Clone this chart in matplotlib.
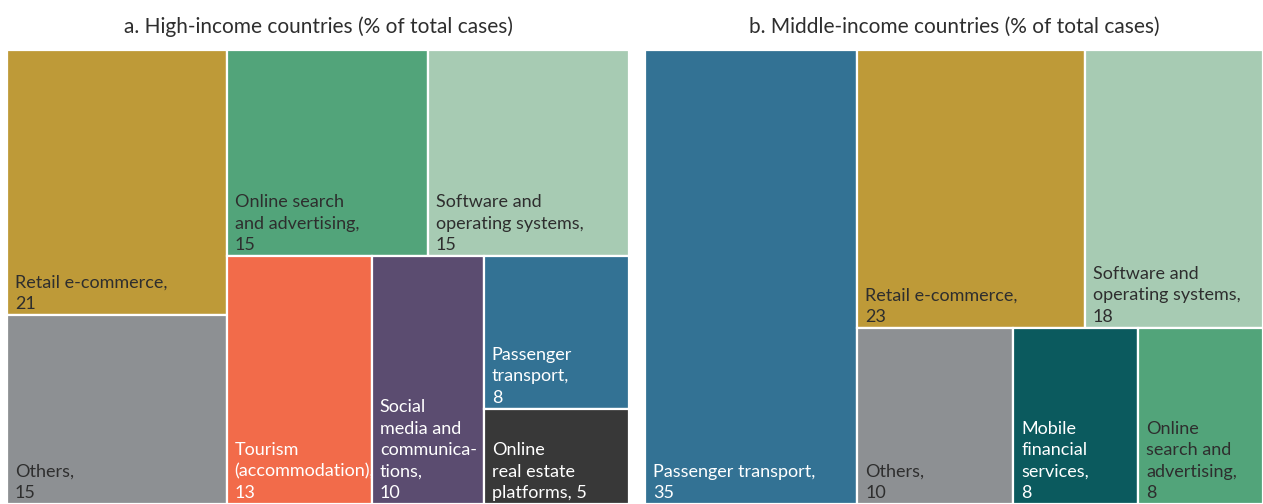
import matplotlib
matplotlib.use("Agg")
import matplotlib.pyplot as plt
from matplotlib.patches import Rectangle

plt.rcParams['font.family'] = ['Lato', 'DejaVu Sans']

# ---- data ----
high_labels = ["Retail e-commerce,\n21", "Others,\n15", "Online search\nand advertising,\n15",
               "Software and\noperating systems,\n15", "Tourism\n(accommodation),\n13",
               "Social\nmedia and\ncommunica-\ntions,\n10", "Passenger\ntransport,\n8",
               "Online\nreal estate\nplatforms, 5"]
high_values = [21, 15, 15, 15, 13, 10, 8, 5]
high_colors = ["#BE9A38", "#8D9093", "#52A47A", "#A7CBB3", "#F26B4A", "#5B4C70", "#337294", "#383838"]
high_text = ["#2E2E2E", "#2E2E2E", "#2E2E2E", "#2E2E2E", "white", "white", "white", "white"]

mid_labels = ["Passenger transport,\n35", "Retail e-commerce,\n23", "Software and\noperating systems,\n18",
              "Others,\n10", "Mobile\nfinancial\nservices,\n8", "Online\nsearch and\nadvertising,\n8"]
mid_values = [35, 23, 18, 10, 8, 8]
mid_colors = ["#337294", "#BE9A38", "#A7CBB3", "#8D9093", "#0B5A5E", "#52A47A"]
mid_text = ["white", "#2E2E2E", "#2E2E2E", "#2E2E2E", "white", "#2E2E2E"]

titles = ["a. High-income countries (% of total cases)", "b. Middle-income countries (% of total cases)"]

# tree structure of the treemap: 'h' = side by side, 'v' = stacked top to bottom
high_tree = ('h', [('v', [0, 1]),
                   ('v', [('h', [2, 3]), ('h', [4, 5, ('v', [6, 7])])])])
mid_tree = ('h', [0, ('v', [('h', [1, 2]), ('h', [3, 4, 5])])])


def node_size(node, vals):
    if isinstance(node, int):
        return vals[node]
    return sum(node_size(c, vals) for c in node[1])


def layout(node, vals, x, y, w, h, out):
    if isinstance(node, int):
        out[node] = (x, y, w, h)
        return
    d, children = node
    tot = node_size(node, vals)
    if d == 'h':
        cx = x
        for c in children:
            cw = w * node_size(c, vals) / tot
            layout(c, vals, cx, y, cw, h, out)
            cx += cw
    else:
        cy = y + h
        for c in children:
            ch = h * node_size(c, vals) / tot
            cy -= ch
            layout(c, vals, x, cy, w, ch, out)


W, H = 1263, 504
fig = plt.figure(figsize=(W / 100, H / 100), dpi=100)
panels = [
    (high_tree, high_values, high_labels, high_colors, high_text, [7 / W, 0, 622 / W, 454 / H]),
    (mid_tree, mid_values, mid_labels, mid_colors, mid_text, [645 / W, 0, 618 / W, 454 / H]),
]
for (tree, vals, labels, colors, tcols, pos), title in zip(panels, titles):
    ax = fig.add_axes(pos)
    ax.set_xlim(0, 1)
    ax.set_ylim(0, 1)
    ax.axis('off')
    rects = {}
    layout(tree, vals, 0, 0, 1, 1, rects)
    for i in range(len(vals)):
        x, y, w, h = rects[i]
        ax.add_patch(Rectangle((x, y), w, h, facecolor=colors[i], edgecolor='white', linewidth=1.6))
    for i in range(len(vals)):
        x, y, w, h = rects[i]
        ax.annotate(labels[i], xy=(x, y), xytext=(8, 3), textcoords='offset pixels',
                    ha='left', va='bottom', fontsize=13, color=tcols[i], linespacing=1.42,
                    annotation_clip=False)
    ax.set_title(title, fontsize=15, color='#2E2E2E', pad=12)

fig.savefig("out.png", dpi=100)
